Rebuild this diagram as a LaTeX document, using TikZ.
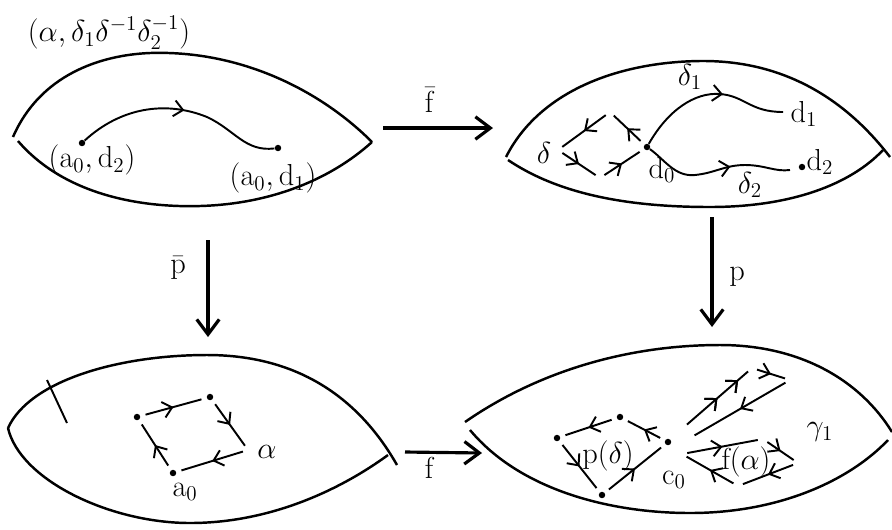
\documentclass[tikz,border=0pt]{standalone}
\usepackage{amsmath,amssymb}
\usepackage{tikz}
\usetikzlibrary{arrows.meta,decorations.markings}

\tikzset{
  lens/.style={line width=1.4pt},
  map/.style={line width=1.8pt,-{Straight Barb[length=3mm,width=4.5mm]}},
  midbarb/.style={postaction={decorate},
    decoration={markings,mark=at position #1 with {\arrow{Straight Barb[length=1.8mm,width=3.2mm]}}}},
  midbarb/.default=0.5,
  loopedge/.style={line width=1.1pt,shorten <=3pt,shorten >=3pt,midbarb},
  curveline/.style={line width=1.1pt},
  pt/.style={circle,fill,inner sep=1.3pt},
  lbl/.style={font=\LARGE,inner sep=1pt},
}

\begin{document}
\begin{tikzpicture}[x=0.02cm,y=-0.02cm]
  \useasboundingbox (0,0) rectangle (892,529);

  % the four spaces
  \draw[lens] (13,137) .. controls (40,75) and (100,55) .. (150,53)
    .. controls (240,50) and (320,90) .. (372,142);
  \draw[lens] (18,141) .. controls (60,190) and (130,208) .. (200,206)
    .. controls (270,204) and (330,180) .. (372,142);

  \draw[lens] (506,157) .. controls (540,90) and (620,62) .. (700,61)
    .. controls (790,60) and (850,105) .. (890,157);
  \draw[lens] (508,160) .. controls (560,195) and (630,207) .. (710,207)
    .. controls (790,207) and (850,185) .. (883,150);

  \draw[lens] (8,428) .. controls (30,380) and (120,355) .. (207,355)
    .. controls (300,355) and (360,400) .. (397,465);
  \draw[lens] (8,428) .. controls (20,480) and (110,523) .. (190,523)
    .. controls (270,523) and (340,490) .. (388,455);

  \draw[lens] (465,422) .. controls (540,370) and (630,345) .. (720,345)
    .. controls (800,345) and (860,380) .. (892,432);
  \draw[lens] (470,430) .. controls (520,490) and (610,513) .. (690,513)
    .. controls (780,513) and (850,480) .. (888,440);

  % maps between them
  \coordinate (fbarS) at (383,128);
  \coordinate (fbarE) at (493,128);
  \coordinate (pbarS) at (208,240);
  \coordinate (pbarE) at (208,337);
  \coordinate (pS) at (712,217);
  \coordinate (pE) at (712,327);
  \coordinate (fS) at (405,452);
  \coordinate (fE) at (482,453);
  \draw[map] (fbarS) -- (fbarE);
  \draw[map] (pbarS) -- (pbarE);
  \draw[map] (pS) -- (pE);
  \draw[map] (fS) -- (fE);
  \node[lbl] (fbarlbl) at (430,100) {$\bar{\mathrm{f}}$};
  \node[lbl] (pbarlbl) at (178,268) {$\bar{\mathrm{p}}$};
  \node[lbl] (plbl) at (737,277) {$\mathrm{p}$};
  \node[lbl] (flbl) at (430,468) {$\mathrm{f}$};

  % top left: the covering space point
  \node[lbl] (pairlbl) at (109,33) {$(\alpha,\delta_1\delta^{-1}\delta_2^{-1})$};
  \node[pt] (ad2) at (82,143) {};
  \node[pt] (ad1) at (278,148) {};
  \node[lbl] (ad2lbl) at (92,160) {$(\mathrm{a}_0,\mathrm{d}_2)$};
  \node[lbl] (ad1lbl) at (273,178) {$(\mathrm{a}_0,\mathrm{d}_1)$};
  \draw[curveline,midbarb=0.52] (ad2) .. controls (120,108) and (165,100) .. (207,117)
    .. controls (235,130) and (245,152) .. (ad1);

  % top right
  \node[pt] (d0) at (647,147) {};
  \coordinate (dL) at (558,150);
  \coordinate (dT) at (610,112);
  \coordinate (dB) at (600,178);
  \foreach \a/\b in {d0/dT,dT/dL,dL/dB,dB/d0}
    \draw[loopedge] (\a) -- (\b);
  \node[lbl] (deltalbl) at (544,153) {$\delta$};
  \node[lbl] (d0lbl) at (662,170) {$\mathrm{d}_0$};
  \coordinate (d1end) at (783,112);
  \node[lbl] (d1lbl) at (804,114) {$\mathrm{d}_1$};
  \node[pt] (d2) at (802,167) {};
  \node[lbl] (d2lbl) at (820,162) {$\mathrm{d}_2$};
  \draw[curveline,midbarb=0.6] (d0) .. controls (668,110) and (695,92) .. (720,94)
    .. controls (745,96) and (750,112) .. (d1end);
  \draw[curveline,midbarb=0.6] (d0) .. controls (665,160) and (675,177) .. (695,175)
    .. controls (715,173) and (725,165) .. (745,165)
    .. controls (765,165) and (775,172) .. (790,170);
  \node[lbl] (delta1lbl) at (690,77) {$\delta_1$};
  \node[lbl] (delta2lbl) at (750,185) {$\delta_2$};

  % bottom left
  \draw[curveline] (47,380) -- (67,423);
  \node[pt] (a0) at (173,473) {};
  \node[pt] (aTL) at (137,417) {};
  \node[pt] (aTR) at (210,397) {};
  \coordinate (aR) at (248,450);
  \foreach \a/\b in {a0/aTL,aTL/aTR,aTR/aR,aR/a0}
    \draw[loopedge] (\a) -- (\b);
  \node[lbl] (alphalbl) at (267,452) {$\alpha$};
  \node[lbl] (a0lbl) at (185,492) {$\mathrm{a}_0$};

  % bottom right
  \node[pt] (c0) at (668,442) {};
  \node[pt] (pL) at (557,438) {};
  \node[pt] (pT) at (620,417) {};
  \node[pt] (pB) at (602,495) {};
  \foreach \a/\b in {c0/pT,pT/pL,pL/pB,pB/c0}
    \draw[loopedge] (\a) -- (\b);
  \node[lbl] (pdeltalbl) at (608,456) {$\mathrm{p}(\delta)$};
  \node[lbl] (c0lbl) at (674,480) {$\mathrm{c}_0$};

  \coordinate (fL) at (682,454);
  \coordinate (fT) at (763,439);
  \coordinate (fR) at (798,463);
  \coordinate (fB) at (738,486);
  \foreach \a/\b in {fL/fT,fT/fR,fR/fB,fB/fL}
    \draw[loopedge] (\a) -- (\b);
  \node[lbl] (falphalbl) at (746,462) {$\mathrm{f}(\alpha)$};

  \coordinate (gA) at (683,428);
  \coordinate (gT) at (752,368);
  \coordinate (gR) at (790,380);
  \coordinate (gB) at (690,438);
  \draw[loopedge,midbarb=0.8] (gA) -- (gT);
  \draw[loopedge] (gT) -- (gR);
  \draw[loopedge] (gR) -- (gB);
  \node[lbl] (gammalbl) at (820,432) {$\gamma_1$};
\end{tikzpicture}
\end{document}
